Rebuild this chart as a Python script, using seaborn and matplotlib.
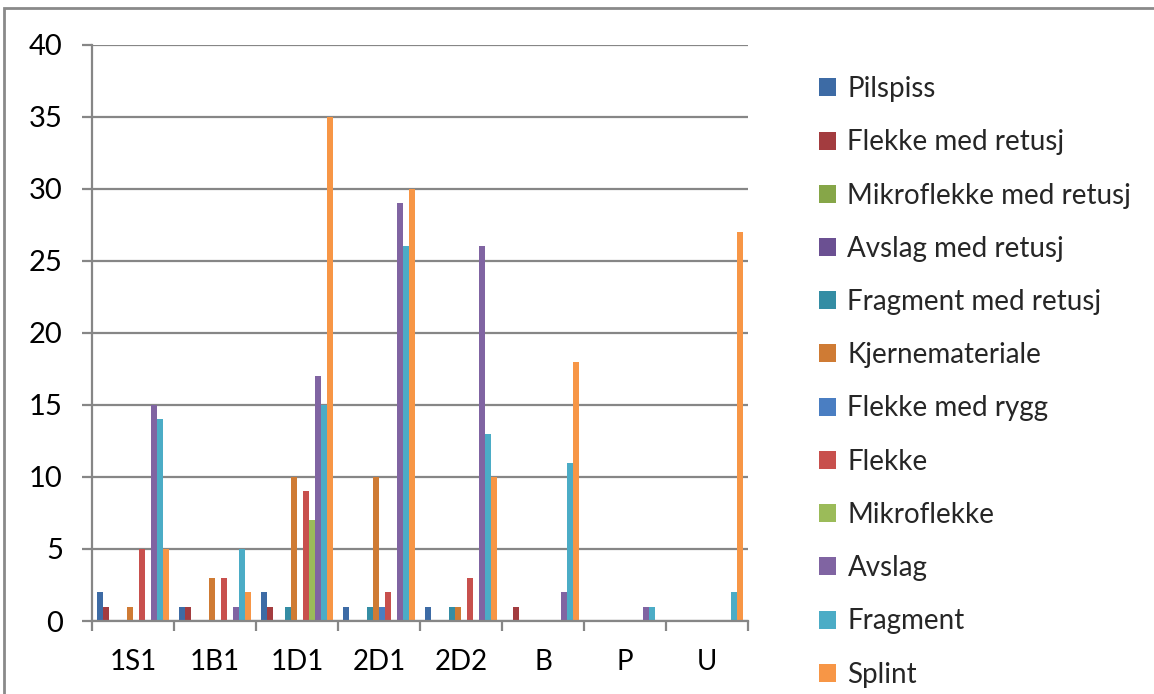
import matplotlib
matplotlib.use("Agg")
import matplotlib.pyplot as plt
import seaborn as sns
import pandas as pd
from matplotlib.patches import Patch, Rectangle

groups = ["1S1", "1B1", "1D1", "2D1", "2D2", "B", "P", "U"]
series = ["Pilspiss", "Flekke med retusj", "Mikroflekke med retusj", "Avslag med retusj",
          "Fragment med retusj", "Kjernemateriale", "Flekke med rygg", "Flekke",
          "Mikroflekke", "Avslag", "Fragment", "Splint"]
pilspiss = [2, 1, 2, 1, 1, 0, 0, 0]
flekke_med_retusj = [1, 1, 1, 0, 0, 1, 0, 0]
mikroflekke_med_retusj = [0, 0, 0, 0, 0, 0, 0, 0]
avslag_med_retusj = [0, 0, 0, 0, 0, 0, 0, 0]
fragment_med_retusj = [0, 0, 1, 1, 1, 0, 0, 0]
kjernemateriale = [1, 3, 10, 10, 1, 0, 0, 0]
flekke_med_rygg = [0, 0, 0, 1, 0, 0, 0, 0]
flekke = [5, 3, 9, 2, 3, 0, 0, 0]
mikroflekke = [0, 0, 7, 0, 0, 0, 0, 0]
avslag = [15, 1, 17, 29, 26, 2, 1, 0]
fragment = [14, 5, 15, 26, 13, 11, 1, 2]
splint = [5, 2, 35, 30, 10, 18, 0, 27]
values = [pilspiss, flekke_med_retusj, mikroflekke_med_retusj, avslag_med_retusj,
          fragment_med_retusj, kjernemateriale, flekke_med_rygg, flekke,
          mikroflekke, avslag, fragment, splint]
colors = ["#3D6BA5", "#A33C3F", "#86A648", "#6B5092", "#348DA4", "#CF7B34",
          "#4A7EC2", "#C8504D", "#9BBB59", "#8064A2", "#4BACC6", "#F79646"]

rows = []
for s, vals in zip(series, values):
    for g, v in zip(groups, vals):
        rows.append({"group": g, "series": s, "value": v})
df = pd.DataFrame(rows)

sns.set_theme(style="white")
plt.rcParams["font.family"] = ["Lato", "DejaVu Sans"]

fig = plt.figure(figsize=(11.54, 6.94), dpi=100)
ax = fig.add_axes([92 / 1154, 73 / 694, (748 - 92) / 1154, (621 - 44.7) / 694])

sns.barplot(data=df, x="group", y="value", hue="series", order=groups,
            hue_order=series, palette=colors, width=0.88, saturation=1,
            linewidth=0, ax=ax, legend=False, errorbar=None)

gray = "#868686"
ax.set_xlim(-0.5, len(groups) - 0.5)
ax.set_ylim(0, 40)
ax.set_yticks(range(0, 41, 5))
ax.yaxis.grid(True, color=gray, linewidth=1.6)
ax.set_axisbelow(True)
ax.set_xlabel("")
ax.set_ylabel("")
for sp in ["top", "right"]:
    ax.spines[sp].set_visible(False)
for sp in ["left", "bottom"]:
    ax.spines[sp].set_color(gray)
    ax.spines[sp].set_linewidth(1.6)
ax.tick_params(axis="y", length=7, width=1.6, color=gray, pad=14, labelsize=21, labelcolor="black", left=True)
ax.tick_params(axis="x", which="major", length=0, pad=20, labelsize=20, labelcolor="black")
ax.set_xticks([i - 0.5 for i in range(len(groups) + 1)], minor=True)
ax.tick_params(axis="x", which="minor", length=7, width=1.6, color=gray, bottom=True)

handles = [Patch(facecolor=c, edgecolor="none", label=s) for s, c in zip(series, colors)]
fig.legend(handles=handles, loc="upper left", bbox_to_anchor=(808 / 1154, 1 - 65 / 694),
           frameon=False, fontsize=20, handlelength=0.62, handleheight=0.62,
           handletextpad=0.4, labelspacing=0.98, borderaxespad=0)

fig.patches.append(Rectangle((4 / 1154, -0.1), 1.2, 1 - 8 / 694 + 0.1, transform=fig.transFigure,
                             fill=False, edgecolor="#8a8a8a", linewidth=2))

fig.savefig("out.png", dpi=100)
